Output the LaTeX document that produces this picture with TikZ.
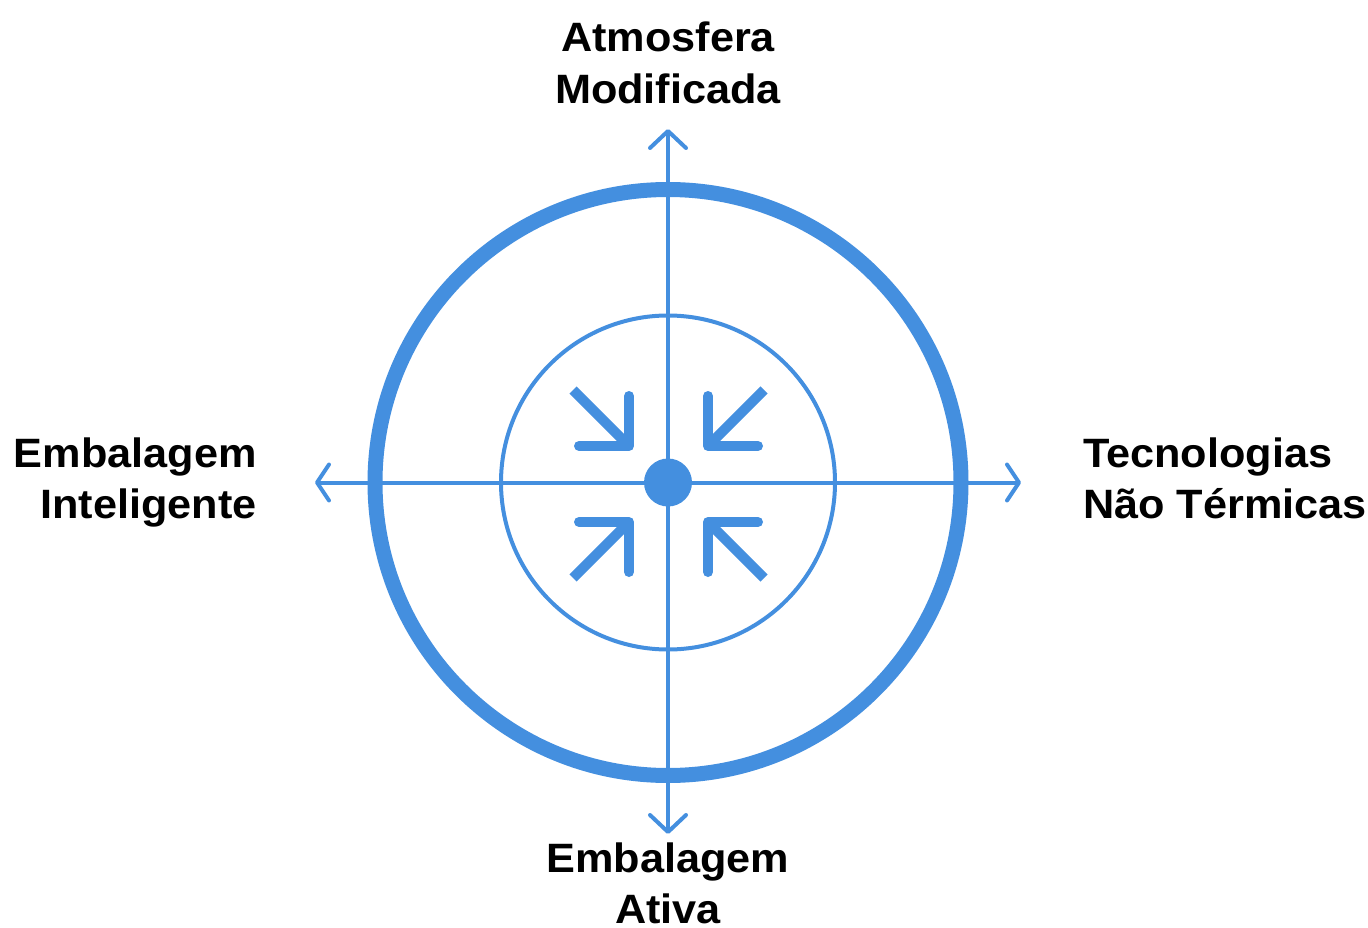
\documentclass[tikz,border=0pt]{standalone}
\usepackage{fontspec}
\setmainfont[FakeStretch=1.055]{Liberation Sans}
\usetikzlibrary{arrows.meta}
\definecolor{blu}{RGB}{68,143,223}
\tikzset{
  ring/.style={circle, draw=blu, inner sep=0pt, outer sep=0pt},
  axis/.style={draw=blu, line width=4pt},
  vtip/.style={-{Straight Barb[length=17pt,width=36pt,round]}},
  htip/.style={-{Straight Barb[length=12pt,width=36pt,round]}},
  inarm/.style={draw=blu, line width=10pt, line cap=round, line join=round},
  inshaft/.style={draw=blu, line width=10pt, line cap=butt},
  lbl/.style={inner sep=0pt, font=\fontsize{41}{51.5}\selectfont\bfseries, text=black}
}
\begin{document}
\begin{tikzpicture}[x=1pt,y=-1pt]
\useasboundingbox (0,0) rectangle (1368,928);
\coordinate (c) at (668,482.5);
\coordinate (n) at (668,129);
\coordinate (s) at (668,834);
\coordinate (w) at (315,482.5);
\coordinate (e) at (1021,482.5);
\node[ring, line width=15pt, minimum size=586pt] (outer) at (c) {};
\node[ring, line width=4pt, minimum size=334pt] (inner) at (c) {};
\draw[axis, vtip] (c) -- (n);
\draw[axis, vtip] (c) -- (s);
\draw[axis, htip] (c) -- (w);
\draw[axis, htip] (c) -- (e);
\node[circle, fill=blu, inner sep=0pt, minimum size=48pt] (dot) at (c) {};
\foreach \n/\sx/\sy in {tl/-1/-1, tr/1/-1, bl/-1/1, br/1/1}{
  \coordinate (\n) at (668.5+39.5*\sx, 484+38*\sy);
  \draw[inarm] ([shift={(0,50*\sy)}]\n) -- (\n) -- ([shift={(50*\sx,0)}]\n);
  \draw[inshaft] ([shift={(56*\sx,56*\sy)}]\n) -- (\n);
}
\node[lbl, align=center, anchor=base] (top) at (668,103.5) {Atmosfera\\Modificada};
\node[lbl, align=right, anchor=base east] (left) at (257,518.5) {Embalagem\\Inteligente};
\node[lbl, align=left, anchor=base west] (right) at (1083,518.5) {Tecnologias\\Não Térmicas};
\node[lbl, align=center, anchor=base] (bottom) at (668,923.5) {Embalagem\\Ativa};
\end{tikzpicture}
\end{document}
